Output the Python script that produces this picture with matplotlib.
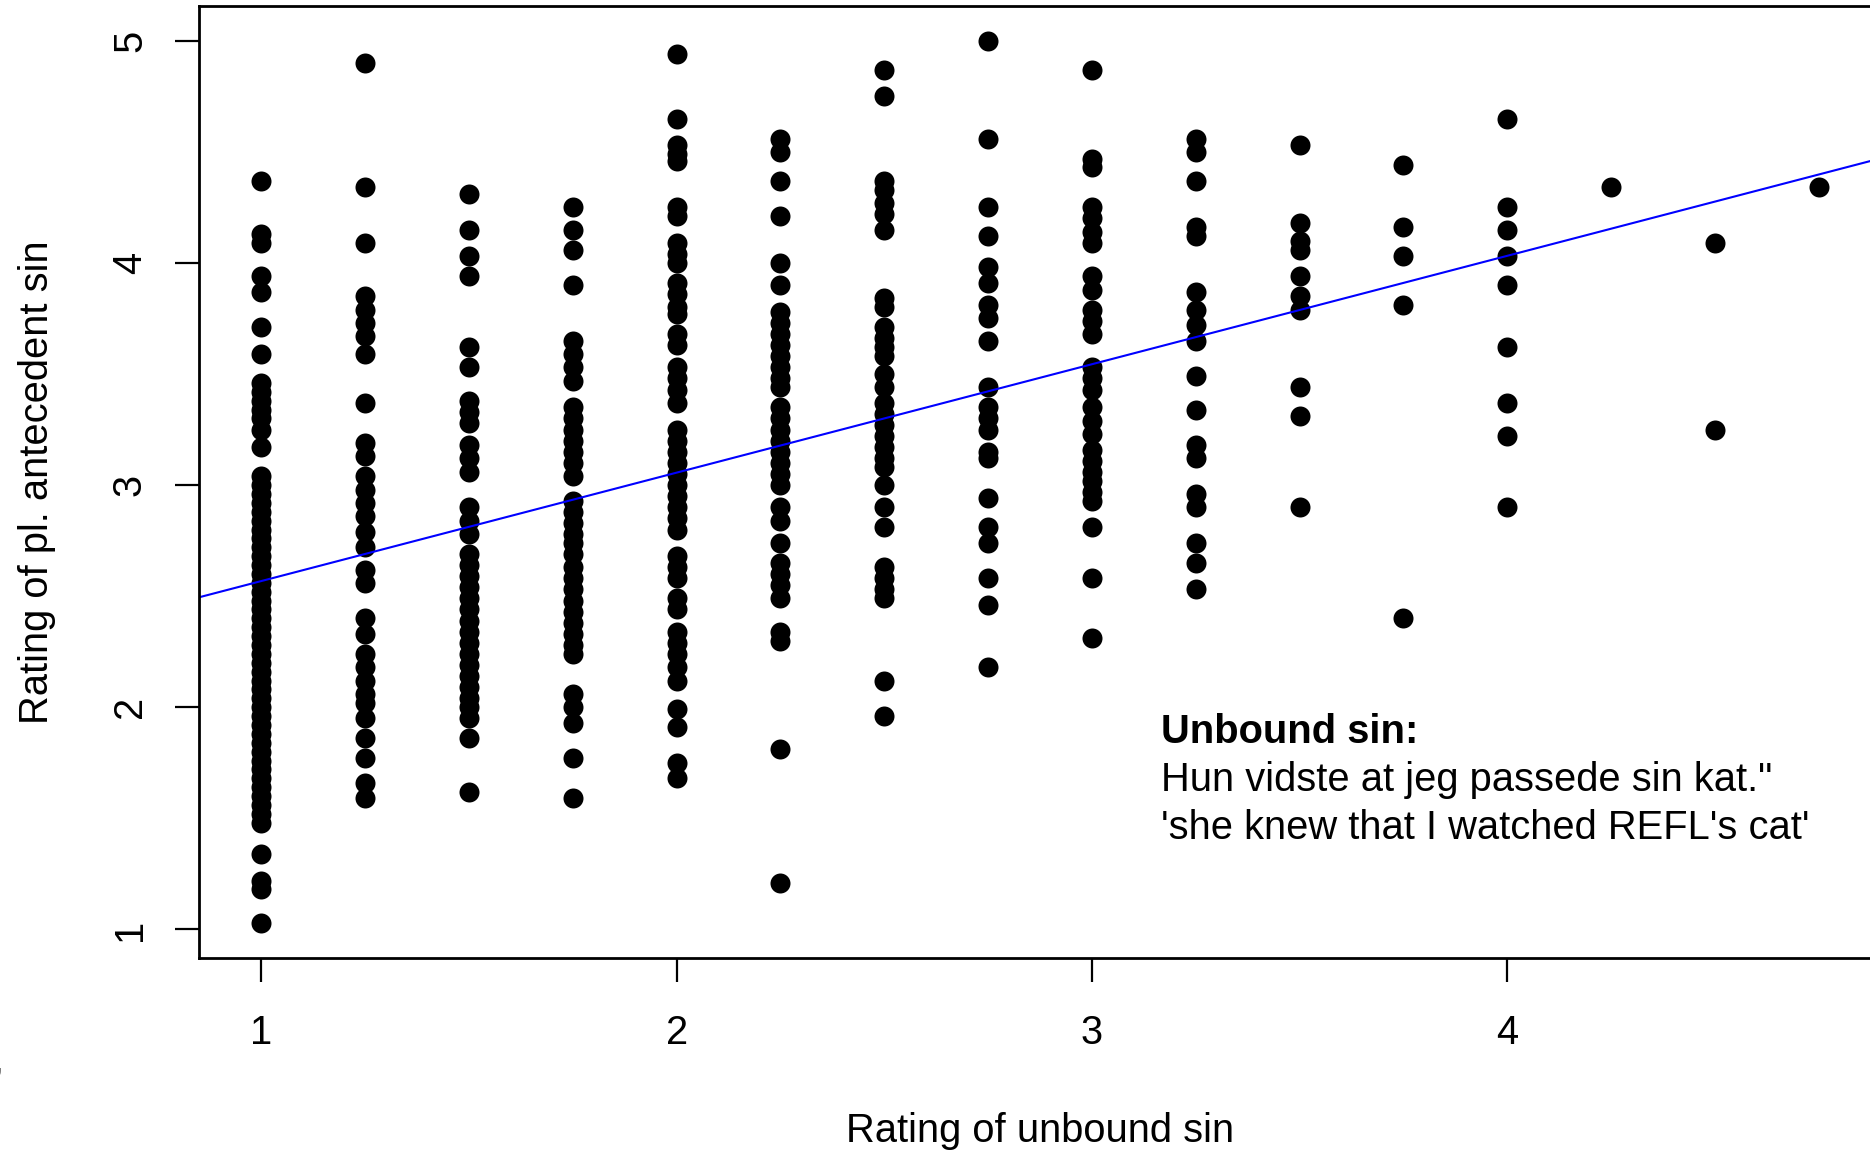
import numpy as np
import matplotlib
matplotlib.use('Agg')
import matplotlib.pyplot as plt

plt.rcParams['font.family'] = ['Liberation Sans', 'DejaVu Sans']

# mean ratings, grouped by the unbound-sin rating they belong to
unbound_levels = [1.0, 1.25, 1.5, 1.75, 2.0, 2.25, 2.5, 2.75, 3.0, 3.25, 3.5, 3.75, 4.0, 4.25, 4.5, 4.75]

pl_at_100 = [4.37, 4.13, 4.09, 3.94, 3.87, 3.71, 3.59, 3.46, 3.42, 3.38, 3.34, 3.30, 3.25, 3.17, 3.04,
             3.00, 2.96, 2.92, 2.88, 2.84, 2.80, 2.76, 2.72, 2.68, 2.64, 2.60, 2.56, 2.52, 2.48, 2.44,
             2.40, 2.36, 2.32, 2.28, 2.24, 2.20, 2.16, 2.12, 2.08, 2.04, 2.00, 1.96, 1.92, 1.88, 1.84,
             1.80, 1.76, 1.72, 1.68, 1.64, 1.60, 1.56, 1.52, 1.48, 1.34, 1.22, 1.18, 1.03]
pl_at_125 = [4.90, 4.34, 4.09, 3.85, 3.79, 3.73, 3.67, 3.59, 3.37, 3.19, 3.13, 3.04, 2.98, 2.92, 2.86,
             2.79, 2.72, 2.62, 2.56, 2.40, 2.33, 2.24, 2.18, 2.12, 2.06, 2.02, 1.95, 1.86, 1.77, 1.66, 1.59]
pl_at_150 = [4.31, 4.15, 4.03, 3.94, 3.62, 3.53, 3.38, 3.33, 3.28, 3.18, 3.12, 3.06, 2.90, 2.84, 2.78,
             2.69, 2.64, 2.59, 2.54, 2.49, 2.44, 2.39, 2.34, 2.29, 2.24, 2.19, 2.14, 2.09, 2.04, 2.00,
             1.95, 1.86, 1.62]
pl_at_175 = [4.25, 4.15, 4.06, 3.90, 3.65, 3.59, 3.53, 3.47, 3.35, 3.30, 3.25, 3.20, 3.15, 3.10, 3.04,
             2.93, 2.88, 2.83, 2.78, 2.74, 2.69, 2.63, 2.58, 2.53, 2.48, 2.43, 2.38, 2.33, 2.28, 2.24,
             2.06, 2.00, 1.93, 1.77, 1.59]
pl_at_200 = [4.94, 4.65, 4.53, 4.49, 4.46, 4.25, 4.21, 4.09, 4.04, 4.00, 3.91, 3.86, 3.80, 3.77, 3.68,
             3.63, 3.53, 3.48, 3.43, 3.37, 3.25, 3.20, 3.15, 3.10, 3.05, 3.00, 2.95, 2.90, 2.85, 2.80,
             2.68, 2.63, 2.58, 2.49, 2.44, 2.34, 2.29, 2.24, 2.18, 2.12, 1.99, 1.91, 1.75, 1.68]
pl_at_225 = [4.56, 4.50, 4.37, 4.21, 4.00, 3.90, 3.78, 3.73, 3.68, 3.63, 3.58, 3.53, 3.48, 3.44, 3.35,
             3.30, 3.25, 3.20, 3.15, 3.10, 3.05, 3.00, 2.90, 2.84, 2.74, 2.65, 2.60, 2.55, 2.49, 2.34,
             2.30, 1.81, 1.21]
pl_at_250 = [4.87, 4.75, 4.37, 4.33, 4.27, 4.22, 4.15, 3.84, 3.80, 3.71, 3.66, 3.62, 3.58, 3.50, 3.44,
             3.37, 3.32, 3.27, 3.22, 3.17, 3.12, 3.08, 3.00, 2.90, 2.81, 2.63, 2.58, 2.53, 2.49, 2.12, 1.96]
pl_at_275 = [5.00, 4.56, 4.25, 4.12, 3.98, 3.91, 3.81, 3.75, 3.65, 3.44, 3.35, 3.30, 3.25, 3.15, 3.12,
             2.94, 2.81, 2.74, 2.58, 2.46, 2.18]
pl_at_300 = [4.87, 4.47, 4.43, 4.25, 4.20, 4.14, 4.09, 3.94, 3.88, 3.79, 3.74, 3.68, 3.53, 3.48, 3.43,
             3.35, 3.29, 3.23, 3.16, 3.11, 3.06, 3.02, 2.97, 2.93, 2.81, 2.58, 2.31]
pl_at_325 = [4.56, 4.50, 4.37, 4.16, 4.12, 3.87, 3.79, 3.72, 3.65, 3.49, 3.34, 3.18, 3.12, 2.96, 2.90,
             2.74, 2.65, 2.53]
pl_at_350 = [4.53, 4.18, 4.10, 4.06, 3.94, 3.85, 3.79, 3.44, 3.31, 2.90]
pl_at_375 = [4.44, 4.16, 4.03, 3.81, 2.40]
pl_at_400 = [4.65, 4.25, 4.15, 4.03, 3.90, 3.62, 3.37, 3.22, 2.90]
pl_at_425 = [4.34]
pl_at_450 = [4.09, 3.25]
pl_at_475 = [4.34]

pl_columns = [pl_at_100, pl_at_125, pl_at_150, pl_at_175, pl_at_200, pl_at_225, pl_at_250, pl_at_275,
              pl_at_300, pl_at_325, pl_at_350, pl_at_375, pl_at_400, pl_at_425, pl_at_450, pl_at_475]

# lm(pl ~ unbound) coefficients
fit_intercept = 2.08
fit_slope = 0.488

unbound = np.concatenate([[lvl] * len(col) for lvl, col in zip(unbound_levels, pl_columns)])
pl = np.concatenate(pl_columns)

W, H = 1870, 1151
FS = 28.7
fig = plt.figure(figsize=(W / 100, H / 100), dpi=100)
# plot region runs a little past the right edge of the canvas
ax = fig.add_axes([199 / W, (H - 958) / H, (1881 - 199) / W, (958 - 5.5) / H])

ax.plot(unbound, pl, 'o', color='black', markersize=14.4, markeredgewidth=0, linestyle='none')

x_lim = (unbound.min() - 0.04 * np.ptp(unbound), unbound.max() + 0.04 * np.ptp(unbound))
y_lim = (pl.min() - 0.04 * np.ptp(pl), pl.max() + 0.04 * np.ptp(pl))
ax.set_xlim(x_lim)
ax.set_ylim(y_lim)

xs = np.array(x_lim)
ax.plot(xs, fit_intercept + fit_slope * xs, color='#0000ff', linewidth=1.5)

ax.set_xticks([1, 2, 3, 4])
ax.set_yticks([1, 2, 3, 4, 5])
ax.tick_params(axis='both', direction='out', length=17, width=1.6, labelsize=FS)
ax.tick_params(axis='x', pad=23)
ax.tick_params(axis='y', pad=19)
for lab in ax.get_yticklabels():
    lab.set_rotation(90)
    lab.set_va('center')
for sp in ax.spines.values():
    sp.set_linewidth(2)

ax.set_xlabel('Rating of unbound sin', fontsize=FS, va='center')
ax.xaxis.set_label_coords(0.5, -0.1812)
ax.set_ylabel('Rating of pl. antecedent sin', fontsize=FS, va='center')
ax.yaxis.set_label_coords(-0.0963, 0.5)

ax.text(3.167, 1.837, 'Unbound sin:', fontsize=FS, fontweight='bold', va='baseline')
ax.text(3.167, 1.621, 'Hun vidste at jeg passede sin kat."', fontsize=FS, va='baseline')
ax.text(3.167, 1.405, "'she knew that I watched REFL's cat'", fontsize=FS, va='baseline')

fig.text(-0.004, 1 - 1061 / H, ',', fontsize=FS, va='center')

fig.savefig('out.png', dpi=100)
